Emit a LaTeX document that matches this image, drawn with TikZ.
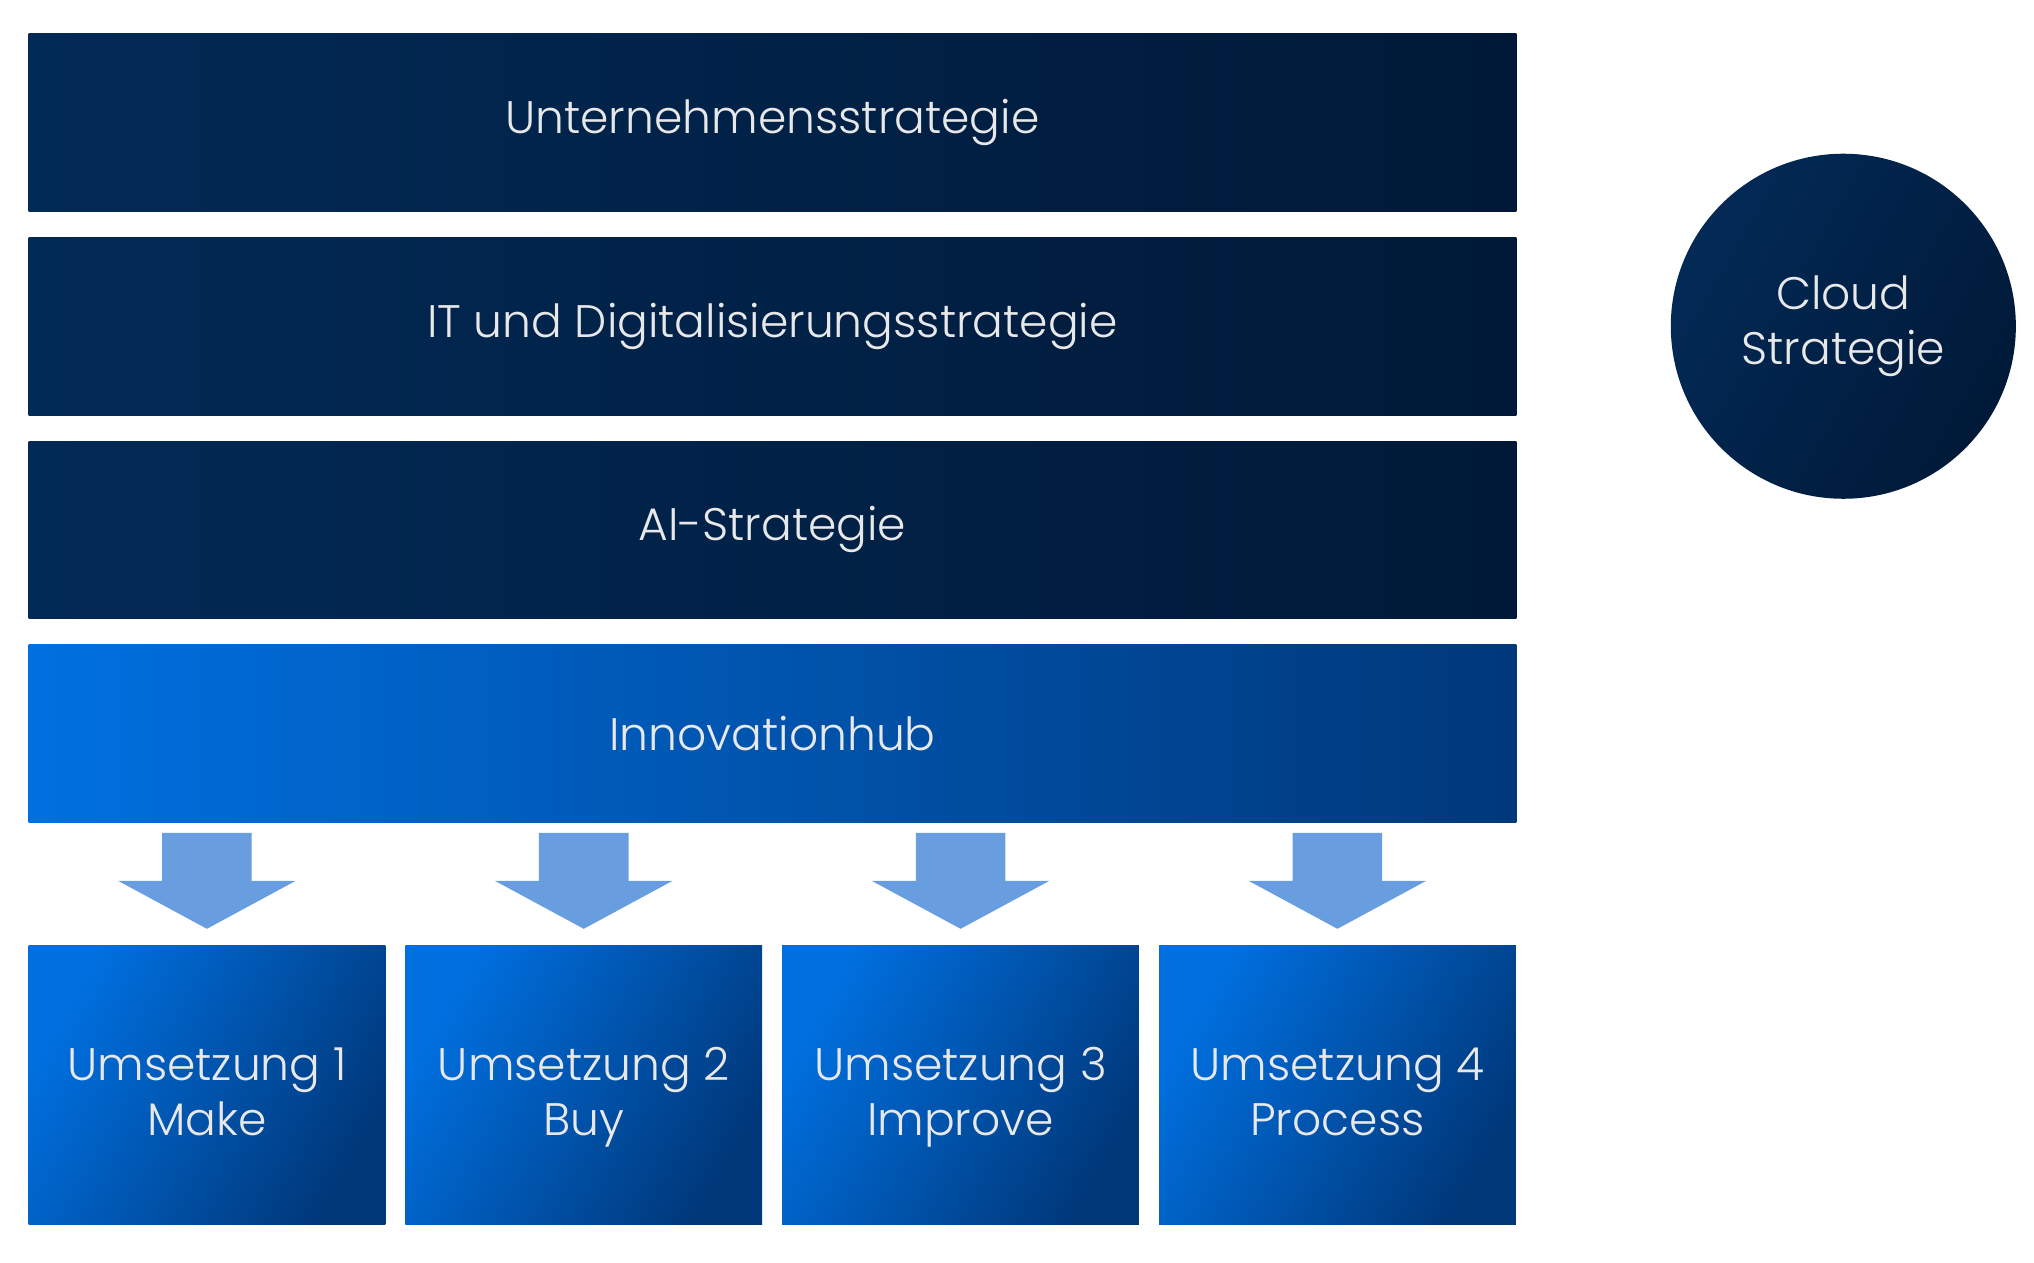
\documentclass[tikz,border=0pt]{standalone}
\usepackage{fontspec}
\setmainfont{Poppins}[UprightFont=* Light]
\usepackage{tikz}
\usetikzlibrary{positioning, calc}
\definecolor{navyA}{RGB}{2,42,86}
\definecolor{navyB}{RGB}{0,25,56}
\definecolor{blueA}{RGB}{0,112,224}
\definecolor{blueB}{RGB}{0,56,122}
\definecolor{arrowblue}{RGB}{104,158,224}
\definecolor{labelgray}{RGB}{232,232,232}
\newcommand\twolines[2]{\rule{0pt}{27pt}#1\\#2\strut}

\begin{document}
\begin{tikzpicture}[
    layer/.style = {rectangle, inner sep = 0pt, outer sep = 0pt, minimum width = 22.94cm,
                    minimum height = 2.74cm, text = labelgray, font = \fontsize{20}{24}\selectfont},
    strat/.style = {layer, left color = navyA, right color = navyB},
    hub/.style = {layer, left color = blueA, right color = blueB},
    impl/.style = {rectangle, inner sep = 0pt, outer sep = 0pt, minimum width = 5.5cm,
                   minimum height = 4.3cm, align = center, text = labelgray,
                   font = \fontsize{20}{24}\selectfont,
                   left color = blueA, right color = blueB, shading angle = 60},
    cloud/.style = {circle, inner sep = 0pt, minimum size = 5.32cm, align = center,
                    text = labelgray, font = \fontsize{20}{24}\selectfont,
                    left color = navyA, right color = navyB, shading angle = 60},
    downarrow/.style = {fill = arrowblue},
    node distance = 0.4cm]
  \useasboundingbox (0,0) rectangle (31.36,-19.46);
  \node[strat] (unt) at (11.91,-1.89) {Unternehmensstrategie};
  \node[strat, below = of unt] (itd) {IT und Digitalisierungsstrategie};
  \node[strat, below = of itd] (ais) {AI-Strategie};
  \node[hub, below = of ais] (ihub) {Innovationhub};
  \node[impl, anchor = north west] (u1) at ($(ihub.south west)+(0,-1.9)$) {\twolines{Umsetzung 1}{Make}};
  \node[impl, right = 0.31cm of u1] (u2) {\twolines{Umsetzung 2}{Buy}};
  \node[impl, right = 0.31cm of u2] (u3) {\twolines{Umsetzung 3}{Improve}};
  \node[impl, right = 0.31cm of u3] (u4) {\twolines{Umsetzung 4}{Process}};
  \node[cloud] (cloud) at (itd -| 28.42,0) {Cloud\\Strategie};
  % arrows from the hub down to each box
  \foreach \b in {u1, u2, u3, u4}
    \fill[downarrow] ([yshift = 0.26cm]\b.north) -- ++(-1.37,0.74) -- ++(0.68,0) -- ++(0,0.74)
      -- ++(1.38,0) -- ++(0,-0.74) -- ++(0.68,0) -- cycle;
\end{tikzpicture}
\end{document}
